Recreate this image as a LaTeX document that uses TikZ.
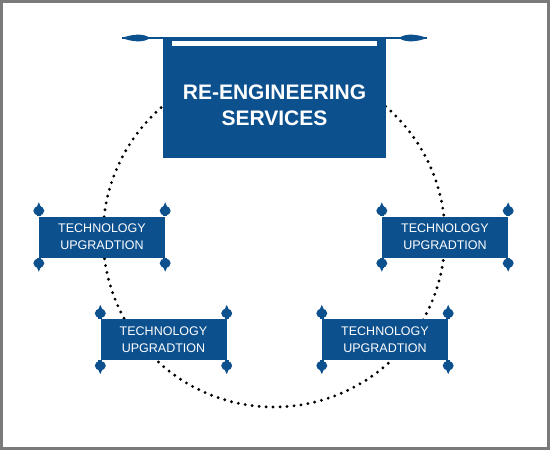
\documentclass[tikz,border=0pt]{standalone}
\usepackage{fontspec}
\setmainfont{Liberation Sans}
\usetikzlibrary{calc}
\definecolor{reblue}{RGB}{12,80,142}
\definecolor{framegray}{RGB}{122,122,122}
\tikzset{
  banner/.style={fill=reblue,minimum width=223pt,minimum height=120pt,inner sep=0pt},
  bannertext/.style={text=white,font=\fontsize{21}{26}\selectfont\bfseries,align=center,inner sep=0pt},
  scrollbox/.style={fill=reblue,text=white,minimum width=126pt,minimum height=41pt,font=\fontsize{12.5}{17}\selectfont,align=center,inner sep=0pt},
  rod/.style={draw=reblue,line width=2.6pt},
  knobrod/.style={draw=reblue,line width=4pt},
  ring/.style={draw=black,line width=3.2pt,line cap=round,dash pattern=on 0pt off 7pt}
}
% knobs at the four corners of a scroll
\newcommand{\scrollknobs}[1]{%
  \foreach \corner/\dir in {north west/-1,north east/-1,south west/1,south east/1}{
    \draw[knobrod] ($(#1.\corner)+(0,0)$) -- ($(#1.\corner)+(0,10*\dir)$);
    \fill[reblue] ($(#1.\corner)+(0,5.5*\dir)$) ellipse (5.5pt and 4.8pt);
    \fill[reblue] ($(#1.\corner)+(-2.6,8*\dir)$) -- ($(#1.\corner)+(0,14*\dir)$) -- ($(#1.\corner)+(2.6,8*\dir)$) -- cycle;
  }}

\begin{document}
\begin{tikzpicture}[x=1pt,y=-1pt]
\useasboundingbox (0,0) rectangle (550,450);
\draw[framegray,line width=3pt] (1.5,1.5) rectangle (548.5,448.5);

% dotted ring
\coordinate (hub) at (274,236);
\draw[ring] (hub) circle (171pt);

% top banner
\node[banner] (banner) at (274.5,98) {};
\fill[white] ($(banner.north west)+(9,3)$) rectangle ($(banner.north east)+(-9,8)$);
\coordinate (rodL) at (122,38);
\coordinate (rodR) at (427,38);
\draw[rod] (rodL) -- (rodR);
\fill[reblue] (rodL) .. controls (134,33.5) and (144,33.5) .. (150,38) .. controls (144,42.5) and (134,42.5) .. (rodL);
\fill[reblue] (rodR) .. controls (415,33.5) and (405,33.5) .. (399,38) .. controls (405,42.5) and (415,42.5) .. (rodR);
\node[bannertext] (title) at (274.5,105) {RE-ENGINEERING\\SERVICES};

% scrolls
\node[scrollbox] (techL) at (102,237) {TECHNOLOGY\\UPGRADTION};
\node[scrollbox] (techR) at (445,237) {TECHNOLOGY\\UPGRADTION};
\node[scrollbox] (techBL) at (163.5,339.5) {TECHNOLOGY\\UPGRADTION};
\node[scrollbox] (techBR) at (385,339.5) {TECHNOLOGY\\UPGRADTION};
\scrollknobs{techL}
\scrollknobs{techR}
\scrollknobs{techBL}
\scrollknobs{techBR}
\end{tikzpicture}
\end{document}
